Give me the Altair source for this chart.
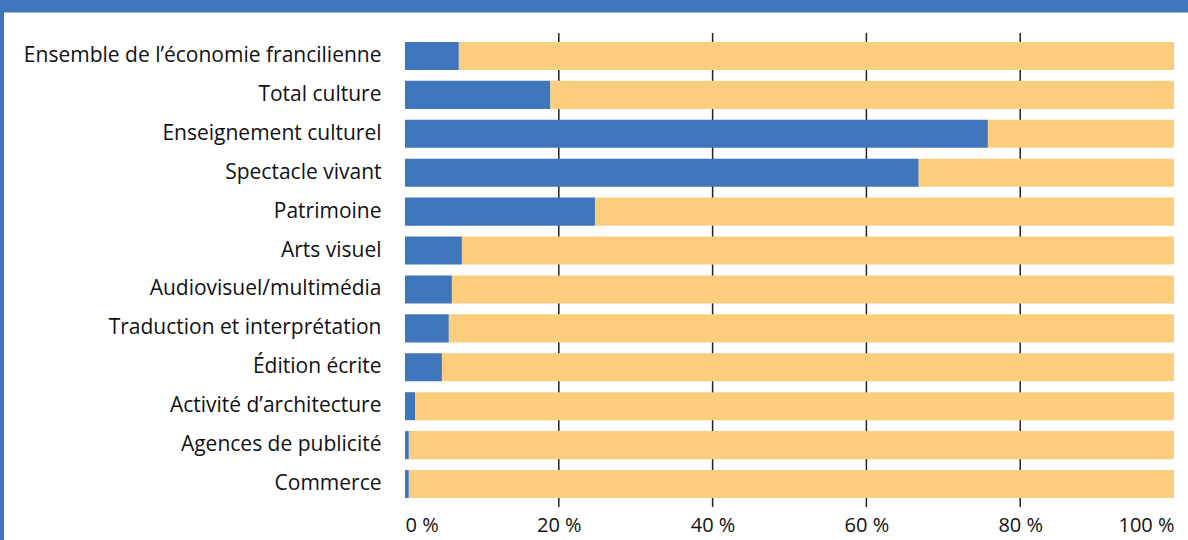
import altair as alt
import pandas as pd

categories = [
    "Ensemble de l’économie francilienne",
    "Total culture",
    "Enseignement culturel",
    "Spectacle vivant",
    "Patrimoine",
    "Arts visuel",
    "Audiovisuel/multimédia",
    "Traduction et interprétation",
    "Édition écrite",
    "Activité d’architecture",
    "Agences de publicité",
    "Commerce",
]
blue_share = [7.0, 18.9, 75.8, 66.8, 24.7, 7.4, 6.1, 5.7, 4.8, 1.3, 0.5, 0.5]
series = ["A", "B"]
x_ticks = [0, 20, 40, 60, 80, 100]
grid_ticks = [20, 40, 60, 80]

rows = []
for c, v in zip(categories, blue_share):
    rows.append({"cat": c, "serie": "A", "val": v, "ord": 0})
    rows.append({"cat": c, "serie": "B", "val": 100 - v, "ord": 1})
df = pd.DataFrame(rows)

BLUE = "#3F75BA"
ORANGE = "#FDCD7E"
FONT = "Open Sans"

W, H = 769, 474
PL, PT = 405, 33

bars = alt.Chart(df).mark_bar().encode(
    y=alt.Y("cat:N", sort=categories, title=None,
            scale=alt.Scale(paddingInner=0.28, paddingOuter=0.23),
            axis=alt.Axis(domain=False, ticks=False, labelPadding=24,
                          labelFontSize=21, labelFont=FONT, labelColor="#111",
                          labelLimit=400)),
    x=alt.X("val:Q", stack="zero", title=None,
            scale=alt.Scale(domain=[0, 100], nice=False),
            axis=alt.Axis(values=x_ticks, domain=False, ticks=False,
                          labelExpr="datum.value + ' %'", labelFlush=True,
                          labelPadding=8, labelFontSize=20, labelFont=FONT,
                          labelColor="#111", grid=False)),
    color=alt.Color("serie:N", scale=alt.Scale(domain=series, range=[BLUE, ORANGE]), legend=None),
    order=alt.Order("ord:Q"),
)

grid = alt.Chart(pd.DataFrame({"g": grid_ticks})).mark_rule(color="#222", strokeWidth=1.5).encode(
    x=alt.X("g:Q", scale=alt.Scale(domain=[0, 100], nice=False)),
)

frame_top = alt.Chart(pd.DataFrame({"a": [0]})).mark_rect(color=BLUE).encode(
    x=alt.value(-PL), x2=alt.value(W + 20), y=alt.value(-PT), y2=alt.value(-PT + 12.5)
)
frame_left = alt.Chart(pd.DataFrame({"a": [0]})).mark_rect(color=BLUE).encode(
    x=alt.value(-PL), x2=alt.value(-PL + 4), y=alt.value(-PT), y2=alt.value(H + 40)
)

chart = alt.layer(grid, bars, frame_top, frame_left).properties(
    width=W, height=H,
    autosize=alt.AutoSizeParams(type="none"),
    padding={"left": PL, "top": PT, "right": 1188 - PL - W, "bottom": 540 - PT - H},
    background="white",
).configure_view(stroke=None)

chart.save("out.html", embed_options={"renderer": "svg", "actions": False})
